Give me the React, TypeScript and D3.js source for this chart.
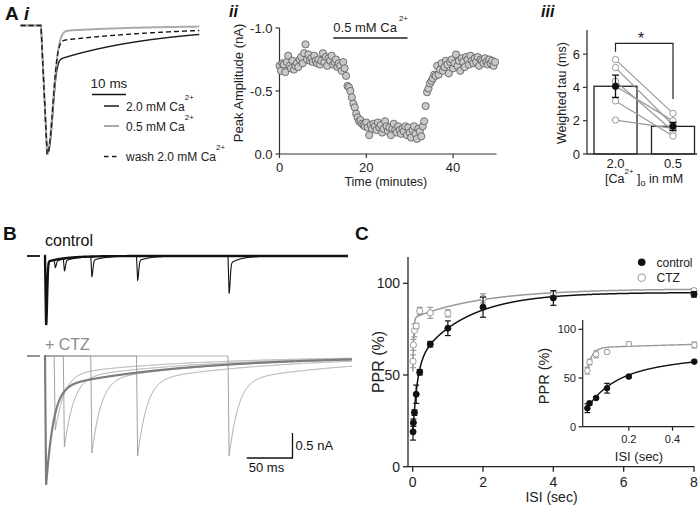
import React from "react";
import * as d3 from "d3";

const FONT = '"Liberation Sans", Arial, Helvetica, sans-serif';

// ---------------- Panel A i : normalised EPSCs ----------------
const aiLabels = ["2.0 mM Ca", "0.5 mM Ca", "wash 2.0 mM Ca"];
const aiFastTau = [2.1, 2.4, 2.2]; // ms
const aiFastPow = [2.5, 2.0, 2.2];
const aiSlowAmp = [0.295, 0.05, 0.13];
const aiSlowTau = [31, 25, 37]; // ms
const aiRiseMs = 1.8;

// ---------------- Panel A ii : peak amplitude vs time ----------------
const timeStepMin = 1 / 3;
const peakAmp = [
  -0.70, -0.66, -0.72, -0.71, -0.65, -0.73, -0.78, -0.70, -0.68, -0.74, -0.67, -0.70, -0.72, -0.69, -0.75,
  -0.77, -0.72, -0.80, -0.87, -0.75, -0.79, -0.74, -0.76, -0.73, -0.78, -0.74, -0.72, -0.75, -0.71, -0.74,
  -0.80, -0.73, -0.77, -0.70, -0.76, -0.74, -0.78, -0.71, -0.73, -0.75, -0.69, -0.72, -0.70, -0.66, -0.73,
  -0.68, -0.62, -0.54, -0.53, -0.50, -0.45, -0.40, -0.37, -0.32, -0.29, -0.26, -0.27, -0.24, -0.23, -0.22,
  -0.25, -0.21, -0.15, -0.23, -0.20, -0.24, -0.22, -0.19, -0.25, -0.21, -0.23, -0.17, -0.20, -0.26, -0.22,
  -0.18, -0.21, -0.15, -0.20, -0.24, -0.19, -0.17, -0.22, -0.19, -0.16, -0.20, -0.18, -0.22, -0.15, -0.21,
  -0.17, -0.13, -0.19, -0.22, -0.16, -0.12, -0.20, -0.18, -0.14, -0.22, -0.26, -0.38, -0.49, -0.52, -0.56,
  -0.58, -0.60, -0.63, -0.62, -0.70, -0.63, -0.67, -0.72, -0.66, -0.69, -0.74, -0.71, -0.64, -0.73, -0.75,
  -0.68, -0.72, -0.79, -0.70, -0.74, -0.66, -0.76, -0.73, -0.69, -0.77, -0.75, -0.71, -0.78, -0.74, -0.72,
  -0.76, -0.73, -0.77, -0.70, -0.75, -0.74, -0.72, -0.76, -0.73, -0.71, -0.75, -0.72, -0.74, -0.70, -0.73,
];
const lowCaMinutes = [12.4, 29.5];
const aiiXTicks = [0, 20, 40];
const aiiYTicks = [-1.0, -0.5, 0.0];

// ---------------- Panel A iii : weighted tau ----------------
const caConc = ["2.0", "0.5"];
const tauMean = [4.07, 1.66];
const tauSem = [0.67, 0.24];
const tauCell2 = [5.67, 5.19, 4.37, 4.07, 3.19, 2.04];
const tauCell05 = [2.44, 1.74, 1.38, 1.99, 1.08, 1.54];
const tauTicks = [0, 2, 4, 6];

// ---------------- Panel B : paired-pulse traces ----------------
const isiMs = [10, 20, 50, 100, 200];
const ctlPeak1 = 1.38; // nA
const ctlPeak2 = [0.154, 0.25, 0.4, 0.48, 0.75];
const ctzPeak1 = 2.58;
const ctzPeak2 = [1.48, 1.82, 1.94, 2.0, 2.0];

// ---------------- Panel C : PPR ----------------
const isiSec = [0.01, 0.02, 0.05, 0.1, 0.2, 0.5, 1, 2, 4, 8];
const pprControl = [19, 24, 29.5, 39.5, 51.5, 66.8, 75.5, 87, 92, 94];
const pprControlSem = [4.5, 2, 1.5, 5, 1.5, 1.5, 4, 5.5, 4, 1.5];
const pprCtz = [57.5, 66.4, 74.3, 76.7, 84.9, 83.9, 83.6, 91.8, 94, 96];
const pprCtzSem = [3.5, 3, 3.5, 1.5, 2, 3, 2, 2.5, 1.5, 1];
const insetCount = 6;
const cXTicks = [0, 2, 4, 6, 8];
const cYTicks = [0, 50, 100];
const insetXTicks = [0.2, 0.4];
const insetYTicks = [0, 50, 100];
// double-exponential fits: A - B e^{-t/t1} - C e^{-t/t2}
const ctlFit = [95, 39, 0.12, 39.8, 1.4];
const ctzFit = [97, 35, 0.022, 16, 2.0];

// --------------------------------------------------------------
function epsc(t: number, rise: number, fTau: number, fPow: number, sAmp: number, sTau: number) {
  if (t <= 0) return 0;
  if (t < rise) return t / rise;
  const u = t - rise;
  return (1 - sAmp) * Math.exp(-Math.pow(u / fTau, fPow)) + sAmp * Math.exp(-u / sTau);
}
function fit(p: number[], t: number) {
  return p[0] - p[1] * Math.exp(-t / p[2]) - p[3] * Math.exp(-t / p[4]);
}

const txt = (extra: any = {}) => ({ fontFamily: FONT, fill: "#222", ...extra });

function PanelAi() {
  const x = d3.scaleLinear().domain([0, 10]).range([41, 75]);
  const y = d3.scaleLinear().domain([0, 1]).range([25.5, 154]);
  const ts = d3.range(-6, 46.6, 0.05);
  const colors = ["#1a1a1a", "#aaaaaa", "#1a1a1a"];
  const widths = [1.4, 2, 1.4];
  const dashes = [undefined, undefined, "5,3"];
  const order = [0, 1, 2];
  const lines = order.map((k) =>
    d3
      .line<number>()
      .x((t) => x(t))
      .y((t) => y(epsc(t, aiRiseMs, aiFastTau[k], aiFastPow[k], aiSlowAmp[k], aiSlowTau[k])))(ts)
  );
  const barX0 = 92;
  const barLen = x(10) - x(0);
  const legY = [106, 126, 156.5];
  return (
    <g>
      {order.map((k) => (
        <path key={k} d={lines[k] as string} fill="none" stroke={colors[k]} strokeWidth={widths[k]} strokeDasharray={dashes[k]} />
      ))}
      <line x1={barX0} x2={barX0 + barLen} y1={94.5} y2={94.5} stroke="#111" strokeWidth={1.3} />
      <text x={barX0 + barLen / 2} y={88} textAnchor="middle" {...txt({ fontSize: 13.5 })}>10 ms</text>
      {aiLabels.map((lab, k) => (
        <g key={lab}>
          <line x1={104} x2={119} y1={legY[k]} y2={legY[k]} stroke={colors[k]} strokeWidth={k === 1 ? 2 : 1.5} strokeDasharray={k === 2 ? "4.5,3.5" : undefined} />
          <text x={126} y={legY[k] + 4.5} {...txt({ fontSize: 12 })}>
            {lab}
            <tspan dy={-11} fontSize={8}>2+</tspan>
          </text>
        </g>
      ))}
    </g>
  );
}

function PanelAii() {
  const x = d3.scaleLinear().domain([0, 50]).range([279.5, 496.5]);
  const y = d3.scaleLinear().domain([0, -1]).range([154, 28]);
  return (
    <g>
      <line x1={x(0)} x2={x(50)} y1={154} y2={154} stroke="#333" strokeWidth={1.2} />
      <line x1={x(0)} x2={x(0)} y1={y(0)} y2={y(-1)} stroke="#333" strokeWidth={1.2} />
      {aiiYTicks.map((v) => (
        <g key={v}>
          <line x1={x(0) - 4} x2={x(0)} y1={y(v)} y2={y(v)} stroke="#333" strokeWidth={1.2} />
          <text x={x(0) - 7} y={y(v) + 4.5} textAnchor="end" {...txt({ fontSize: 13 })}>{v.toFixed(1)}</text>
        </g>
      ))}
      {aiiXTicks.map((v) => (
        <g key={v}>
          <line x1={x(v)} x2={x(v)} y1={154} y2={158} stroke="#333" strokeWidth={1.2} />
          <text x={x(v)} y={172} textAnchor="middle" {...txt({ fontSize: 13 })}>{v}</text>
        </g>
      ))}
      <text x={x(24.5)} y={186} textAnchor="middle" {...txt({ fontSize: 12.5 })}>Time (minutes)</text>
      <text transform={`translate(243,${83}) rotate(-90)`} textAnchor="middle" {...txt({ fontSize: 13 })}>Peak Amplitude (nA)</text>
      <line x1={x(lowCaMinutes[0])} x2={x(lowCaMinutes[1])} y1={38} y2={38} stroke="#222" strokeWidth={1.3} />
      <text x={x(lowCaMinutes[0])} y={31.5} {...txt({ fontSize: 13 })}>
        0.5 mM Ca<tspan dx={2} dy={-11} fontSize={8}>2+</tspan>
      </text>
      {peakAmp.map((v, i) => (
        <circle key={i} cx={x(i * timeStepMin)} cy={y(v)} r={3.6} fill="#c9c9c9" stroke="#555" strokeWidth={0.8} />
      ))}
    </g>
  );
}

function PanelAiii() {
  const y = d3.scaleLinear().domain([0, 7.45]).range([154, 30]);
  const xc = d3.scalePoint<string>().domain(caConc).range([615.5, 673]);
  const bw = 43;
  return (
    <g>
      {caConc.map((c, i) => (
        <rect key={c} x={(xc(c) as number) - bw / 2} y={y(tauMean[i])} width={bw} height={y(0) - y(tauMean[i])} fill="#fff" stroke="#222" strokeWidth={1.3} />
      ))}
      <line x1={587} x2={697} y1={154} y2={154} stroke="#333" strokeWidth={1.3} />
      <line x1={587} x2={587} y1={154} y2={30} stroke="#333" strokeWidth={1.3} />
      {tauTicks.map((v) => (
        <g key={v}>
          <line x1={583} x2={587} y1={y(v)} y2={y(v)} stroke="#333" strokeWidth={1.2} />
          <text x={580} y={y(v) + 4.5} textAnchor="end" {...txt({ fontSize: 13 })}>{v}</text>
        </g>
      ))}
      {tauCell2.map((v, i) => (
        <line key={i} x1={xc("2.0")} x2={xc("0.5")} y1={y(v)} y2={y(tauCell05[i])} stroke="#999" strokeWidth={1.2} />
      ))}
      {tauCell2.map((v, i) => (
        <g key={i}>
          <circle cx={xc("2.0")} cy={y(v)} r={3.2} fill="#fff" stroke="#999" strokeWidth={1} />
          <circle cx={xc("0.5")} cy={y(tauCell05[i])} r={3.2} fill="#fff" stroke="#999" strokeWidth={1} />
        </g>
      ))}
      {caConc.map((c, i) => {
        const cx = xc(c) as number;
        return (
          <g key={c}>
            <line x1={cx} x2={cx} y1={y(tauMean[i] - tauSem[i])} y2={y(tauMean[i] + tauSem[i])} stroke="#111" strokeWidth={1.3} />
            <line x1={cx - 3.5} x2={cx + 3.5} y1={y(tauMean[i] - tauSem[i])} y2={y(tauMean[i] - tauSem[i])} stroke="#111" strokeWidth={1.3} />
            <line x1={cx - 3.5} x2={cx + 3.5} y1={y(tauMean[i] + tauSem[i])} y2={y(tauMean[i] + tauSem[i])} stroke="#111" strokeWidth={1.3} />
            <circle cx={cx} cy={y(tauMean[i])} r={3.5} fill="#111" />
            <text x={cx} y={167.5} textAnchor="middle" {...txt({ fontSize: 13 })}>{c}</text>
          </g>
        );
      })}
      <path d={`M${xc("2.0")},${y(6.15)}V${y(6.65)}H${xc("0.5")}V${y(3.3)}`} fill="none" stroke="#222" strokeWidth={1.2} />
      <text x={641} y={44} textAnchor="middle" {...txt({ fontSize: 16 })}>*</text>
      <text transform="translate(566,93) rotate(-90)" textAnchor="middle" {...txt({ fontSize: 12.5 })}>Weighted tau (ms)</text>
      <text x={605} y={182.5} {...txt({ fontSize: 12.5 })}>
        [Ca<tspan dy={-9} fontSize={8}>2+</tspan>
        <tspan dy={9}> ]</tspan>
        <tspan dy={3} fontSize={9}>o</tspan>
        <tspan dy={-3}> in mM</tspan>
      </text>
    </g>
  );
}

function PanelB() {
  const x = d3.scaleLinear().domain([0, 50]).range([45, 45 + 45.75]);
  const ctlY = d3.scaleLinear().domain([0, 1]).range([256, 306]);
  const ctzY = d3.scaleLinear().domain([0, 1]).range([356, 406]);
  const ctl = (t: number) => epsc(t, 1.2, 1.5, 2, 0.09, 20);
  const ctl2 = (t: number) => epsc(t, 1.2, 1.6, 2, 0.22, 12);
  const ctz = (t: number) => epsc(t, 1.2, 8, 1.05, 0.25, 150);
  const ctz2 = (t: number) => epsc(t, 1.2, 10, 1.05, 0.25, 150);
  const tEndC = (348 - 45) / 0.915;
  const tEndZ = (352 - 45) / 0.915;
  const line = (yS: any, f: (t: number) => number) =>
    d3.line<number>().x((t) => x(t)).y((t) => yS(f(t)));
  const tsC = d3.range(-1, tEndC, 0.1);
  const tsZ = d3.range(-1, tEndZ, 0.1);
  const ctlFirst = line(ctlY, (t) => ctlPeak1 * ctl(t))(tsC) as string;
  const ctzFirst = line(ctzY, (t) => ctzPeak1 * ctz(t))(tsZ) as string;
  const sbX = 292.5;
  const sbY = 458;
  return (
    <g>
      <text x={45} y={246} {...txt({ fontSize: 16, fill: "#111" })}>control</text>
      <line x1={27} x2={40} y1={256} y2={256} stroke="#111" strokeWidth={1.8} />
      {isiMs.map((isi, k) => {
        const ts = d3.range(isi - 0.5, tEndC, 0.1);
        const d = line(ctlY, (t) => ctlPeak1 * ctl(t) + ctlPeak2[k] * ctl2(t - isi))(ts) as string;
        return <path key={isi} d={d} fill="none" stroke="#111" strokeWidth={1.1} />;
      })}
      <path d={ctlFirst} fill="none" stroke="#111" strokeWidth={2.4} />

      <text x={45} y={350} {...txt({ fontSize: 16, fill: "#8a8a8a" })}>+ CTZ</text>
      <line x1={27} x2={40} y1={356} y2={356} stroke="#8a8a8a" strokeWidth={1.8} />
      {isiMs.map((isi, k) => {
        const d = line(ctzY, (t) => ctzPeak2[k] * ctz2(t - isi))(tsZ) as string;
        return <path key={isi} d={d} fill="none" stroke="#a0a0a0" strokeWidth={1} />;
      })}
      <path d={ctzFirst} fill="none" stroke="#7d7d7d" strokeWidth={2.2} />

      <path d={`M${sbX - (x(50) - x(0))},${sbY}H${sbX}V${sbY - (ctzY(0.5) - ctzY(0))}`} fill="none" stroke="#111" strokeWidth={1.3} />
      <text x={sbX + 3} y={450} {...txt({ fontSize: 13, fill: "#111" })}>0.5 nA</text>
      <text x={sbX - (x(50) - x(0)) + 2} y={472} {...txt({ fontSize: 13, fill: "#111" })}>50 ms</text>
    </g>
  );
}

function ErrPts({ xs, ys, es, xS, yS, color, filled, r, cap }: any) {
  return (
    <g>
      {xs.map((t: number, i: number) => (
        <g key={i}>
          <line x1={xS(t)} x2={xS(t)} y1={yS(ys[i] - es[i])} y2={yS(ys[i] + es[i])} stroke={color} strokeWidth={1.2} />
          <line x1={xS(t) - cap} x2={xS(t) + cap} y1={yS(ys[i] - es[i])} y2={yS(ys[i] - es[i])} stroke={color} strokeWidth={1.2} />
          <line x1={xS(t) - cap} x2={xS(t) + cap} y1={yS(ys[i] + es[i])} y2={yS(ys[i] + es[i])} stroke={color} strokeWidth={1.2} />
          <circle cx={xS(t)} cy={yS(ys[i])} r={r} fill={filled ? color : "#fff"} stroke={color} strokeWidth={1} />
        </g>
      ))}
    </g>
  );
}

function PanelC() {
  const x = d3.scaleLinear().domain([0, 8]).range([412.7, 694]);
  const y = d3.scaleLinear().domain([0, 100]).range([466.7, 283.3]);
  const yTop = 257;
  const fitTs = d3.range(0.004, 8.001, 0.004);
  const fl = (p: number[], xs: any, ys: any, ts: number[]) =>
    d3.line<number>().x((t) => xs(t)).y((t) => ys(fit(p, t)))(ts) as string;

  const ix = d3.scaleLinear().domain([0, 0.5]).range([585.2, 694.3]);
  const iy = d3.scaleLinear().domain([0, 100]).range([426.7, 329.3]);
  const iTs = d3.range(0.008, 0.5001, 0.002);
  const nI = insetCount;
  return (
    <g>
      {/* main axes */}
      <line x1={408} x2={694.5} y1={y(0)} y2={y(0)} stroke="#222" strokeWidth={1.3} />
      <line x1={408} x2={408} y1={y(0)} y2={yTop} stroke="#222" strokeWidth={1.3} />
      {cYTicks.map((v) => (
        <g key={v}>
          <line x1={403} x2={408} y1={y(v)} y2={y(v)} stroke="#222" strokeWidth={1.3} />
          <text x={400} y={y(v) + 5} textAnchor="end" {...txt({ fontSize: 14 })}>{v}</text>
        </g>
      ))}
      {cXTicks.map((v) => (
        <g key={v}>
          <line x1={x(v)} x2={x(v)} y1={y(0)} y2={y(0) + 5} stroke="#222" strokeWidth={1.3} />
          <text x={x(v)} y={486.5} textAnchor="middle" {...txt({ fontSize: 14 })}>{v}</text>
        </g>
      ))}
      <text x={551.5} y={502} textAnchor="middle" {...txt({ fontSize: 14 })}>ISI (sec)</text>
      <text transform="translate(384,362) rotate(-90)" textAnchor="middle" {...txt({ fontSize: 16 })}>PPR (%)</text>

      <path d={fl(ctzFit, x, y, fitTs)} fill="none" stroke="#999" strokeWidth={1.5} />
      <path d={fl(ctlFit, x, y, fitTs)} fill="none" stroke="#111" strokeWidth={1.5} />
      <ErrPts xs={isiSec} ys={pprCtz} es={pprCtzSem} xS={x} yS={y} color="#9a9a9a" filled={false} r={3.1} cap={3} />
      <ErrPts xs={isiSec} ys={pprControl} es={pprControlSem} xS={x} yS={y} color="#111" filled={true} r={3} cap={3} />

      {/* legend */}
      <circle cx={641.7} cy={262.3} r={3.8} fill="#111" />
      <text x={656.5} y={266.5} {...txt({ fontSize: 12 })}>control</text>
      <circle cx={641.7} cy={277.7} r={3.8} fill="#fff" stroke="#999" strokeWidth={1} />
      <text x={656.5} y={282} {...txt({ fontSize: 12 })}>CTZ</text>

      {/* inset */}
      <line x1={582.7} x2={694.5} y1={iy(0)} y2={iy(0)} stroke="#222" strokeWidth={1.2} />
      <line x1={582.7} x2={582.7} y1={iy(0)} y2={320} stroke="#222" strokeWidth={1.2} />
      {insetYTicks.map((v) => (
        <g key={v}>
          <line x1={578.5} x2={582.7} y1={iy(v)} y2={iy(v)} stroke="#222" strokeWidth={1.2} />
          <text x={576} y={iy(v) + 4} textAnchor="end" {...txt({ fontSize: 11 })}>{v}</text>
        </g>
      ))}
      {insetXTicks.map((v) => (
        <g key={v}>
          <line x1={ix(v)} x2={ix(v)} y1={iy(0)} y2={iy(0) + 4} stroke="#222" strokeWidth={1.2} />
          <text x={ix(v)} y={443} textAnchor="middle" {...txt({ fontSize: 11 })}>{v}</text>
        </g>
      ))}
      <text x={639} y={461} textAnchor="middle" {...txt({ fontSize: 13 })}>ISI (sec)</text>
      <text transform="translate(549,376) rotate(-90)" textAnchor="middle" {...txt({ fontSize: 14.5 })}>PPR (%)</text>
      <path d={fl(ctzFit, ix, iy, iTs)} fill="none" stroke="#999" strokeWidth={1.4} />
      <path d={fl(ctlFit, ix, iy, iTs)} fill="none" stroke="#111" strokeWidth={1.4} />
      <ErrPts xs={isiSec.slice(0, nI)} ys={pprCtz.slice(0, nI)} es={pprCtzSem.slice(0, nI)} xS={ix} yS={iy} color="#9a9a9a" filled={false} r={2.8} cap={2.8} />
      <ErrPts xs={isiSec.slice(0, nI)} ys={pprControl.slice(0, nI)} es={pprControlSem.slice(0, nI)} xS={ix} yS={iy} color="#111" filled={true} r={2.8} cap={2.8} />
    </g>
  );
}

export default function App() {
  const bold = { fontFamily: FONT, fontWeight: 700, fill: "#111" };
  return (
    <svg width={700} height={506} style={{ position: "absolute", left: 0, top: 0, background: "#fff" }}>
      <rect width={700} height={506} fill="#fff" />
      <text x={5} y={20} fontSize={19} {...bold}>A</text>
      <text x={24} y={20} fontSize={18} fontStyle="italic" {...bold}>i</text>
      <text x={229} y={17} fontSize={16} fontStyle="italic" {...bold}>ii</text>
      <text x={541} y={17} fontSize={16} fontStyle="italic" {...bold}>iii</text>
      <text x={3} y={240} fontSize={19} {...bold}>B</text>
      <text x={355} y={240} fontSize={19} {...bold}>C</text>
      <PanelAi />
      <PanelAii />
      <PanelAiii />
      <PanelB />
      <PanelC />
    </svg>
  );
}
